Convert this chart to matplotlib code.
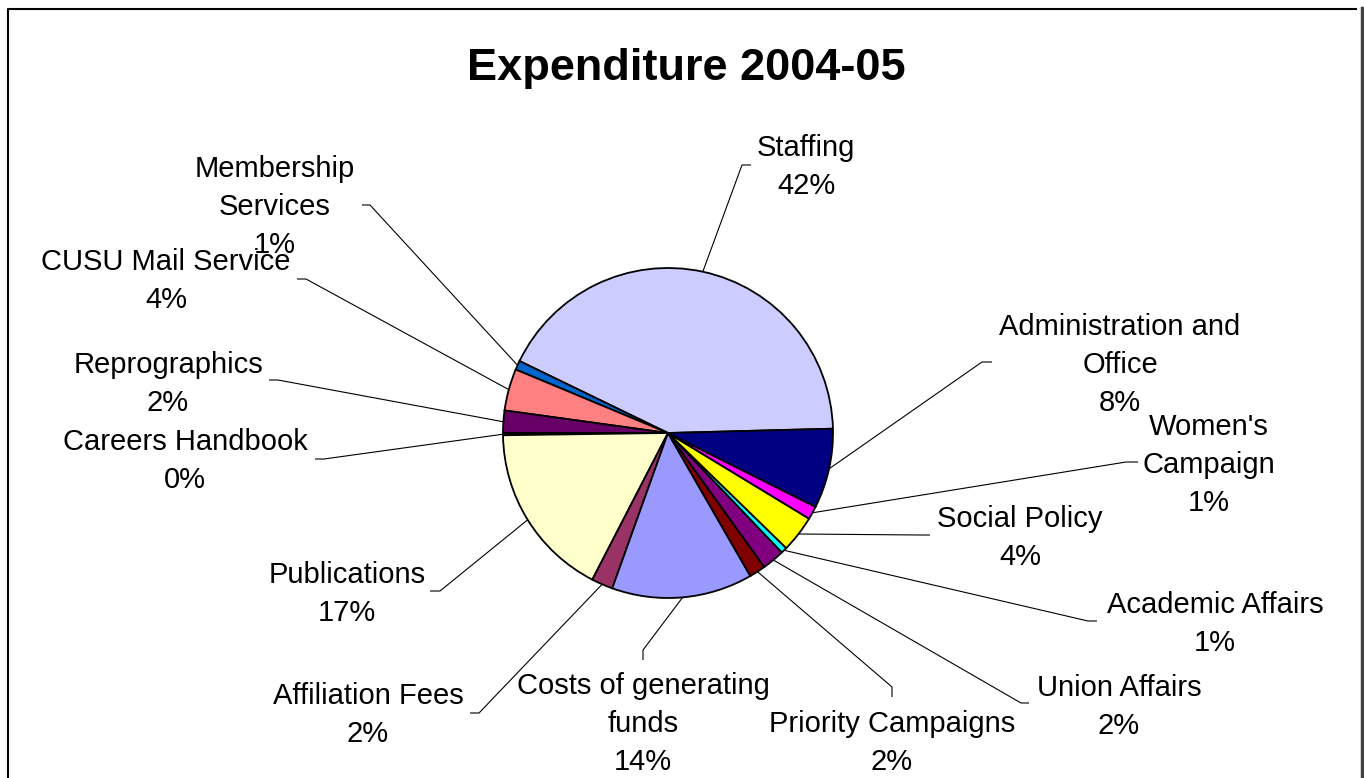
import numpy as np
import matplotlib
matplotlib.use("Agg")
import matplotlib.pyplot as plt

plt.rcParams['font.family'] = ['Liberation Sans', 'DejaVu Sans']

W, H = 1364, 778

# data (percent of total)
categories = ["Staffing", "Membership\nServices", "CUSU Mail Service", "Reprographics",
              "Careers Handbook", "Publications", "Affiliation Fees",
              "Costs of generating\nfunds", "Priority Campaigns", "Union Affairs",
              "Academic Affairs", "Social Policy", "Women's\nCampaign",
              "Administration and\nOffice"]
shares = [42.4, 0.9, 4.1, 2.2, 0.2, 17.2, 2.1, 13.8, 1.6, 2.2, 0.6, 3.6, 1.3, 7.8]
colors = ["#CCCCFF", "#0066CC", "#FF8080", "#660066", "#CCFFFF", "#FFFFCC", "#993366",
          "#9999FF", "#800000", "#800080", "#00FFFF", "#FFFF00", "#FF00FF", "#000080"]

# label layout in pixels (y measured from top): text centre, leader elbow, leader tip
label_xy = [(806, 167), (275, 207), (166, 281), (168, 384), (185, 461), (347, 594),
            (368, 715), (643, 724), (892, 743), (1119, 707), (1215, 624), (1020, 538),
            (1209, 465), (1120, 365)]
elbows = [(742, 165), (370, 205), (306, 279), (278, 380), (324, 459), (440, 591),
          (479, 713), (643, 650), (892, 687), (1021, 703), (1088, 621), (920, 535),
          (1126, 462), (982, 362)]
tips = [(751, 165), (362, 205), (297, 279), (269, 380), (315, 459), (430, 591),
        (470, 713), (643, 660), (892, 697), (1029, 703), (1097, 621), (930, 535),
        (1138, 462), (992, 362)]

cx, cy, rad = 668, H - 433, 165

fig = plt.figure(figsize=(W / 100, H / 100), dpi=100)
ax = fig.add_axes([0, 0, 1, 1])

wedges, _ = ax.pie(shares, colors=colors, startangle=1.5, counterclock=True,
                   center=(cx, cy), radius=rad,
                   wedgeprops=dict(edgecolor='black', linewidth=1.3))

total = sum(shares)
for w, cat, v, (tx, ty), (ex, ey), (px, py) in zip(wedges, categories, shares,
                                                    label_xy, elbows, tips):
    mid = np.deg2rad((w.theta1 + w.theta2) / 2)
    ax_, ay_ = cx + rad * np.cos(mid), cy + rad * np.sin(mid)
    ax.plot([ax_, ex, px], [ay_, H - ey, H - py], color='black', lw=0.8,
            solid_capstyle='butt', zorder=1)
    ax.text(tx, H - ty, f"{cat}\n{round(v / total * 100)}%", ha='center', va='center',
            fontsize=21, linespacing=1.47)

ax.text(686, H - 68, "Expenditure 2004-05", ha='center', va='center',
        fontsize=32.5, weight='bold')

# chart frame
ax.plot([8, 8, 1356], [0, H - 9, H - 9], color='black', lw=1.5)
ax.plot([1361.5, 1361.5], [0, H - 8], color='#404040', lw=2.5)

ax.set_xlim(0, W)
ax.set_ylim(0, H)
ax.set_aspect('equal')
ax.axis('off')

fig.savefig("out.png", dpi=100)
